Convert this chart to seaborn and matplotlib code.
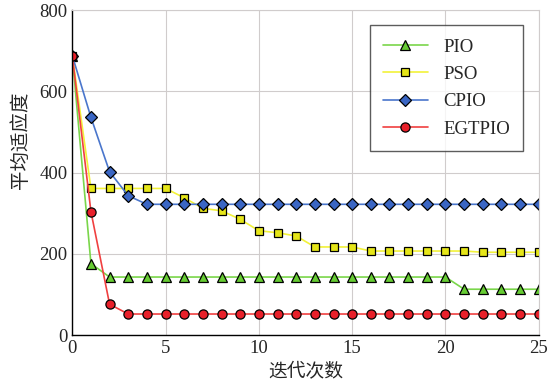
import numpy as np
import pandas as pd
import matplotlib
matplotlib.use("Agg")
import matplotlib.pyplot as plt
import seaborn as sns

# iteration index
iters = list(range(0, 26))

# average fitness per method
pio = [688, 176] + [143] * 19 + [113] * 5
pso = [688, 361, 361, 361, 361, 361, 338, 312, 306, 285, 257, 252, 244,
       217, 217, 217, 207, 207, 207, 207, 207, 207, 204, 204, 204, 204]
cpio = [688, 536, 402, 343] + [322] * 22
egtpio = [688, 304, 76] + [52] * 23

names = ["PIO", "PSO", "CPIO", "EGTPIO"]
series = [pio, pso, cpio, egtpio]
colors = ["#66cc33", "#e6e619", "#3a66c4", "#e8202a"]
line_colors = ["#7ad64a", "#f2f23a", "#4a76cc", "#f04040"]
markers = ["^", "s", "D", "o"]
msizes = [7, 5.6, 6.2, 6.6]

sns.set_style("white")
plt.rcParams["font.family"] = ["Liberation Serif", "Noto Sans CJK SC"]

fig, ax = plt.subplots(figsize=(5.56, 3.87), dpi=100)
fig.subplots_adjust(left=0.13, right=0.969, bottom=0.134, top=0.974)

for name, vals, c, lc, m, ms in zip(names, series, colors, line_colors, markers, msizes):
    sns.lineplot(x=iters, y=vals, ax=ax, color=lc, marker=m, markersize=ms,
                 markerfacecolor=c, markeredgecolor="black", markeredgewidth=0.9,
                 linewidth=1.2, label=name)

ax.set_xlim(0, 25)
ax.set_ylim(0, 800)
ax.set_xticks([0, 5, 10, 15, 20, 25])
ax.set_yticks([0, 200, 400, 600, 800])
ax.grid(True, color="#d0cccc", linewidth=0.8)
ax.tick_params(direction="in", length=4, labelsize=13.5, color="black")
for s in ["left", "bottom"]:
    ax.spines[s].set_color("black")
    ax.spines[s].set_linewidth(1.0)
for s in ["top", "right"]:
    ax.spines[s].set_color("#d0cccc")
    ax.spines[s].set_linewidth(0.8)

ax.set_xlabel("迭代次数", fontsize=13.5, family=["Noto Sans CJK SC"], labelpad=3)
ax.set_ylabel("平均适应度", fontsize=14, family=["Noto Sans CJK SC"])
ax.yaxis.set_label_coords(-0.088, 0.6)

leg = ax.legend(loc="upper right", bbox_to_anchor=(0.986, 0.982), fontsize=13.5,
                frameon=True, fancybox=False, edgecolor="#333333",
                handlelength=2.4, labelspacing=0.55, borderpad=0.7)
leg.get_frame().set_linewidth(1.0)

fig.savefig("out.png", dpi=100)
